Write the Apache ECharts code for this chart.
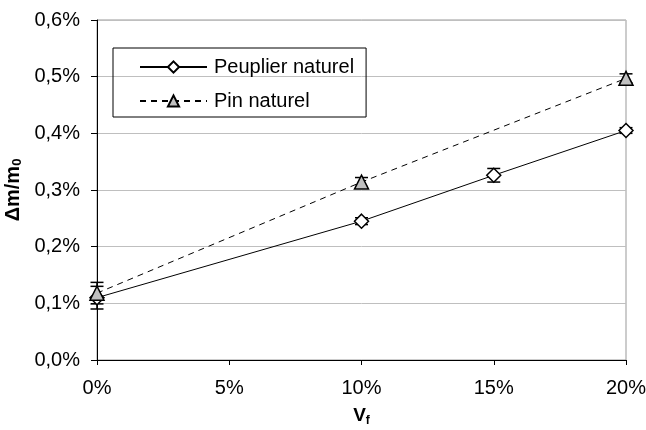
<!DOCTYPE html>
<html>
<head>
<meta charset="utf-8">
<script src="https://cdn.jsdelivr.net/npm/echarts@6/dist/echarts.min.js"></script>
<style>
  html, body { margin: 0; padding: 0; background: #fff; }
  #main { width: 646px; height: 430px; }
</style>
</head>
<body>
<div id="main"></div>
<script>
// Vf (%) et Δm/m0 (%)
var vf = [0, 10, 15, 20];
var peuplier = [0.110, 0.245, 0.326, 0.405];
var peuplierErr = [0.020, 0.006, 0.012, 0.005];
var vfPin = [0, 10, 20];
var pin = [0.118, 0.314, 0.497];
var pinErr = [0.019, 0.008, 0.008];
var xTicks = [0, 5, 10, 15, 20];
var yTicks = [0, 0.1, 0.2, 0.3, 0.4, 0.5, 0.6];

function pairs(xs, ys) {
  return xs.map(function (x, i) { return [x, ys[i]]; });
}
function errPairs(xs, ys, es) {
  return xs.map(function (x, i) { return [x, ys[i] - es[i], ys[i] + es[i]]; });
}

// barres d'erreur
function renderErr(params, api) {
  var lo = api.coord([api.value(0), api.value(1)]);
  var hi = api.coord([api.value(0), api.value(2)]);
  var w = 6.5;
  var st = { stroke: '#000', lineWidth: 1.5 };
  return {
    type: 'group',
    children: [
      { type: 'line', shape: { x1: lo[0], y1: lo[1], x2: hi[0], y2: hi[1] }, style: st },
      { type: 'line', shape: { x1: lo[0] - w, y1: lo[1], x2: lo[0] + w, y2: lo[1] }, style: st },
      { type: 'line', shape: { x1: hi[0] - w, y1: hi[1], x2: hi[0] + w, y2: hi[1] }, style: st }
    ]
  };
}

var chart = echarts.init(document.getElementById('main'));
var option = {
  animation: false,
  textStyle: { fontFamily: 'Liberation Sans' },
  grid: {
    left: 97, right: 20, top: 20, bottom: 70,
    containLabel: false,
    outerBoundsMode: 'none',
    show: true, borderColor: '#999', borderWidth: 1
  },
  legend: {
    orient: 'vertical',
    left: 113, top: 48,
    padding: [9, 12, 6, 26],
    itemGap: 14,
    itemWidth: 67, itemHeight: 14,
    borderColor: '#000', borderWidth: 1,
    textStyle: { fontSize: 20, color: '#000', fontFamily: 'Liberation Sans', padding: [0, 0, 0, 2] },
    data: ['Peuplier naturel', 'Pin naturel']
  },
  xAxis: {
    type: 'value',
    min: 0, max: 20, interval: 5,
    axisLine: { lineStyle: { color: '#000' } },
    axisTick: { show: true, length: 5, lineStyle: { color: '#000' } },
    splitLine: { show: false },
    axisLabel: {
      fontSize: 20, color: '#000', margin: 18,
      formatter: function (v) { return v + '%'; }
    },
    name: '{b|V}{s|f}',
    nameLocation: 'middle',
    nameGap: 45,
    nameTextStyle: {
      rich: {
        b: { fontSize: 19, fontWeight: 'bold', color: '#000', fontFamily: 'Liberation Sans' },
        s: { fontSize: 12, fontWeight: 'bold', color: '#000', padding: [10, 0, 0, 0], fontFamily: 'Liberation Sans' }
      }
    }
  },
  yAxis: {
    type: 'value',
    min: 0, max: 0.6, interval: 0.1,
    axisLine: { show: true, lineStyle: { color: '#000' } },
    axisTick: { show: true, length: 6, lineStyle: { color: '#000' } },
    splitLine: { show: true, lineStyle: { color: '#bfbfbf' } },
    axisLabel: {
      fontSize: 20, color: '#000', margin: 17,
      formatter: function (v) { return v.toFixed(1).replace('.', ',') + '%'; }
    },
    name: '{b|Δm/m}{s|0}',
    nameLocation: 'middle',
    nameGap: 71,
    nameTextStyle: {
      rich: {
        b: { fontSize: 20, fontWeight: 'bold', color: '#000', fontFamily: 'Liberation Sans' },
        s: { fontSize: 13, fontWeight: 'bold', color: '#000', padding: [8, 0, 0, 0], fontFamily: 'Liberation Sans' }
      }
    }
  },
  series: [
    {
      name: 'Peuplier naturel',
      type: 'line',
      data: pairs(vf, peuplier),
      symbol: 'diamond', symbolSize: 14,
      itemStyle: { color: '#fff', borderColor: '#000', borderWidth: 1.5 },
      lineStyle: { color: '#000', width: 1 },
      z: 3
    },
    {
      name: 'Pin naturel',
      type: 'line',
      data: pairs(vfPin, pin),
      symbol: 'triangle', symbolSize: 14,
      itemStyle: { color: '#c0c0c0', borderColor: '#000', borderWidth: 1.5 },
      lineStyle: { color: '#000', width: 1, type: [6, 5] },
      z: 3
    },
    {
      type: 'custom',
      renderItem: renderErr,
      data: errPairs(vf, peuplier, peuplierErr),
      encode: { x: 0, y: [1, 2] },
      z: 2, silent: true
    },
    {
      type: 'custom',
      renderItem: renderErr,
      data: errPairs(vfPin, pin, pinErr),
      encode: { x: 0, y: [1, 2] },
      z: 2, silent: true
    }
  ]
};
chart.setOption(option);
</script>
</body>
</html>
